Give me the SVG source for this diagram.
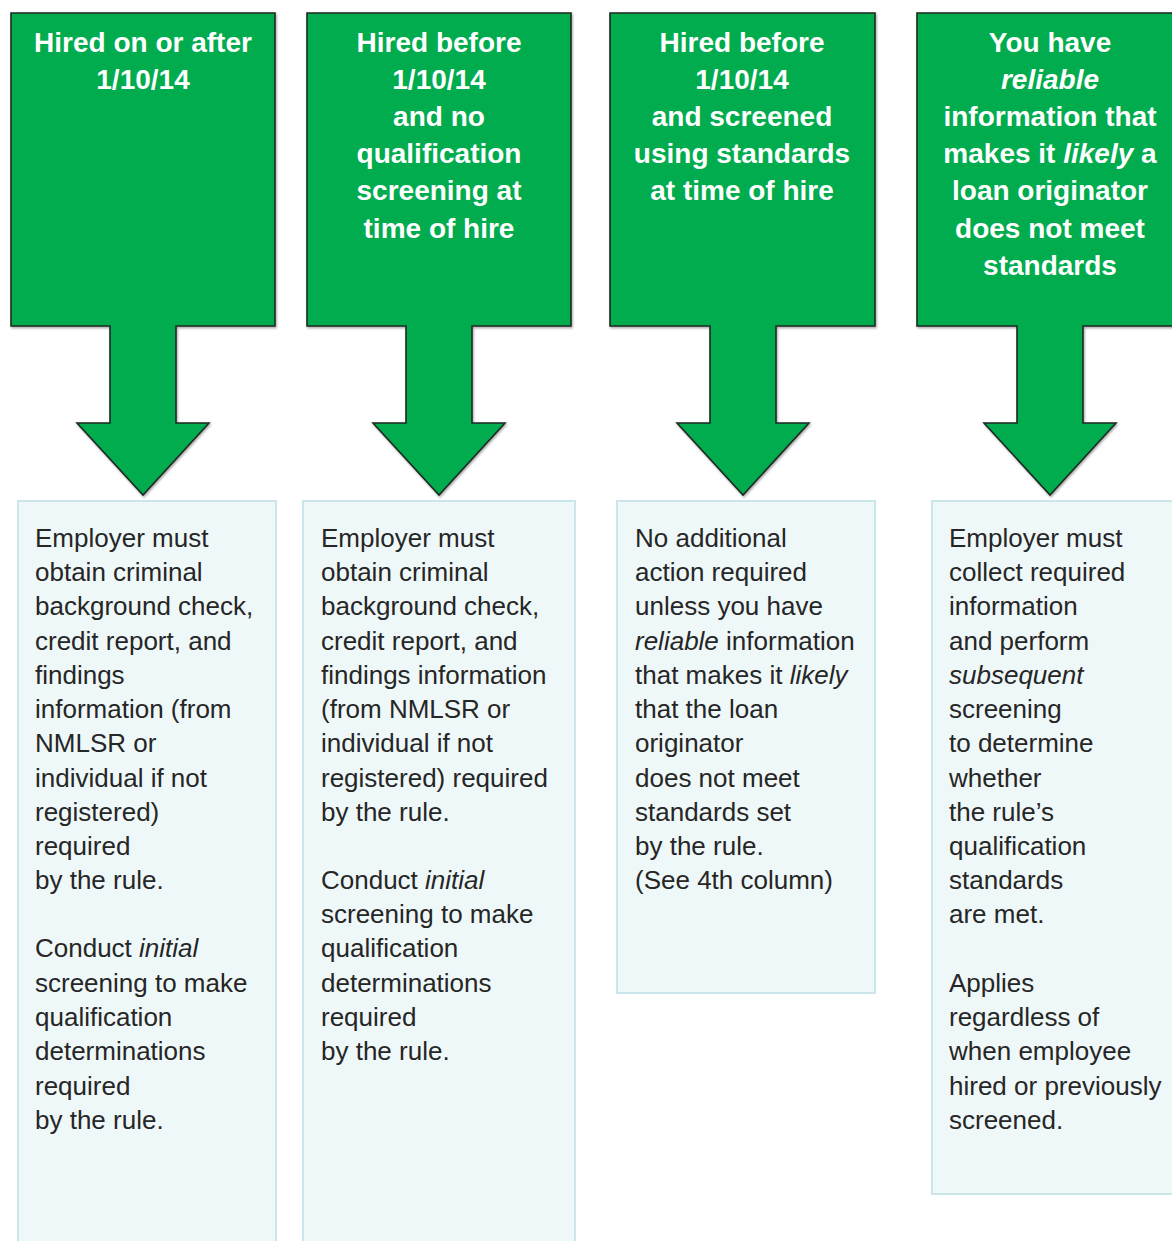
<svg xmlns="http://www.w3.org/2000/svg" width="1172" height="1241" viewBox="0 0 1172 1241">
<defs>
<style>
.arrow{fill:#00AC4E;stroke:#1e2a22;stroke-width:1.6;stroke-linejoin:miter}
.panel{fill:#EFF8F8;stroke:#CBE6EA;stroke-width:2}
.title{font-family:"Liberation Sans",Arial,sans-serif;font-size:28px;font-weight:bold;fill:#ffffff;text-anchor:middle}
.body{font-family:"Liberation Sans",Arial,sans-serif;font-size:26px;fill:#262626}
.it{font-style:italic}
</style>
<filter id="sh" x="-5%" y="-5%" width="110%" height="110%">
<feDropShadow dx="1" dy="1.5" stdDeviation="1" flood-color="#000" flood-opacity="0.35"/>
</filter>
</defs>
<rect width="1172" height="1241" fill="#ffffff"/>
<g id="connectors"></g>

<g id="col1">
<path class="arrow" filter="url(#sh)" d="M11,13 H275 V326 H176 V423 H209 L143,495 L77,423 H110 V326 H11 Z"/>
<text class="title"><tspan x="143" y="52">Hired on or after</tspan><tspan x="143" y="89">1/10/14</tspan></text>
<rect class="panel" x="18" y="501" width="258" height="750"/>
<text class="body">
<tspan x="35" y="547">Employer must</tspan>
<tspan x="35" y="581">obtain criminal</tspan>
<tspan x="35" y="615">background check,</tspan>
<tspan x="35" y="650">credit report, and</tspan>
<tspan x="35" y="684">findings</tspan>
<tspan x="35" y="718">information (from</tspan>
<tspan x="35" y="752">NMLSR or</tspan>
<tspan x="35" y="787">individual  if not</tspan>
<tspan x="35" y="821">registered)</tspan>
<tspan x="35" y="855">required</tspan>
<tspan x="35" y="889">by the rule.</tspan>
<tspan x="35" y="957">Conduct <tspan class="it">initial</tspan></tspan>
<tspan x="35" y="992">screening to make</tspan>
<tspan x="35" y="1026">qualification</tspan>
<tspan x="35" y="1060">determinations</tspan>
<tspan x="35" y="1095">required</tspan>
<tspan x="35" y="1129">by the rule.</tspan>
</text>
</g>

<g id="col2">
<path class="arrow" filter="url(#sh)" d="M307,13 H571 V326 H472 V423 H505 L439,495 L373,423 H406 V326 H307 Z"/>
<text class="title"><tspan x="439" y="52">Hired before</tspan><tspan x="439" y="89">1/10/14</tspan><tspan x="439" y="126">and no</tspan><tspan x="439" y="163">qualification</tspan><tspan x="439" y="200">screening at</tspan><tspan x="439" y="238">time of hire</tspan></text>
<rect class="panel" x="303" y="501" width="272" height="750"/>
<text class="body">
<tspan x="321" y="547">Employer must</tspan>
<tspan x="321" y="581">obtain criminal</tspan>
<tspan x="321" y="615">background check,</tspan>
<tspan x="321" y="650">credit report, and</tspan>
<tspan x="321" y="684">findings information</tspan>
<tspan x="321" y="718">(from NMLSR or</tspan>
<tspan x="321" y="752">individual  if not</tspan>
<tspan x="321" y="787">registered) required</tspan>
<tspan x="321" y="821">by the rule.</tspan>
<tspan x="321" y="889">Conduct <tspan class="it">initial</tspan></tspan>
<tspan x="321" y="923">screening to make</tspan>
<tspan x="321" y="957">qualification</tspan>
<tspan x="321" y="992">determinations</tspan>
<tspan x="321" y="1026">required</tspan>
<tspan x="321" y="1060">by the rule.</tspan>
</text>
</g>

<g id="col3">
<path class="arrow" filter="url(#sh)" d="M610,13 H875 V326 H776 V423 H809 L743,495 L677,423 H710 V326 H610 Z"/>
<text class="title"><tspan x="742" y="52">Hired before</tspan><tspan x="742" y="89">1/10/14</tspan><tspan x="742" y="126">and screened</tspan><tspan x="742" y="163">using standards</tspan><tspan x="742" y="200">at time of hire</tspan></text>
<rect class="panel" x="617" y="501" width="258" height="492"/>
<text class="body">
<tspan x="635" y="547">No additional</tspan>
<tspan x="635" y="581">action required</tspan>
<tspan x="635" y="615">unless you have</tspan>
<tspan x="635" y="650"><tspan class="it">reliable</tspan> information</tspan>
<tspan x="635" y="684">that makes it <tspan class="it">likely</tspan></tspan>
<tspan x="635" y="718">that the loan</tspan>
<tspan x="635" y="752">originator</tspan>
<tspan x="635" y="787">does not meet</tspan>
<tspan x="635" y="821">standards set</tspan>
<tspan x="635" y="855">by the rule.</tspan>
<tspan x="635" y="889">(See 4th column)</tspan>
</text>
</g>

<g id="col4">
<path class="arrow" filter="url(#sh)" d="M917,13 H1185 V326 H1083 V423 H1116 L1050,495 L984,423 H1017 V326 H917 Z"/>
<text class="title"><tspan x="1050" y="52">You have</tspan><tspan x="1050" y="89" class="it">reliable</tspan><tspan x="1050" y="126">information that</tspan><tspan x="1050" y="163">makes it <tspan class="it">likely</tspan> a</tspan><tspan x="1050" y="200">loan originator</tspan><tspan x="1050" y="238">does not meet</tspan><tspan x="1050" y="275">standards</tspan></text>
<rect class="panel" x="932" y="501" width="260" height="693"/>
<text class="body">
<tspan x="949" y="547">Employer must</tspan>
<tspan x="949" y="581">collect required</tspan>
<tspan x="949" y="615">information</tspan>
<tspan x="949" y="650">and perform</tspan>
<tspan x="949" y="684" class="it">subsequent</tspan>
<tspan x="949" y="718">screening</tspan>
<tspan x="949" y="752">to determine</tspan>
<tspan x="949" y="787">whether</tspan>
<tspan x="949" y="821">the rule’s</tspan>
<tspan x="949" y="855">qualification</tspan>
<tspan x="949" y="889">standards</tspan>
<tspan x="949" y="923">are met.</tspan>
<tspan x="949" y="992">Applies</tspan>
<tspan x="949" y="1026">regardless of</tspan>
<tspan x="949" y="1060">when employee</tspan>
<tspan x="949" y="1095">hired or previously</tspan>
<tspan x="949" y="1129">screened.</tspan>
</text>
</g>
</svg>
